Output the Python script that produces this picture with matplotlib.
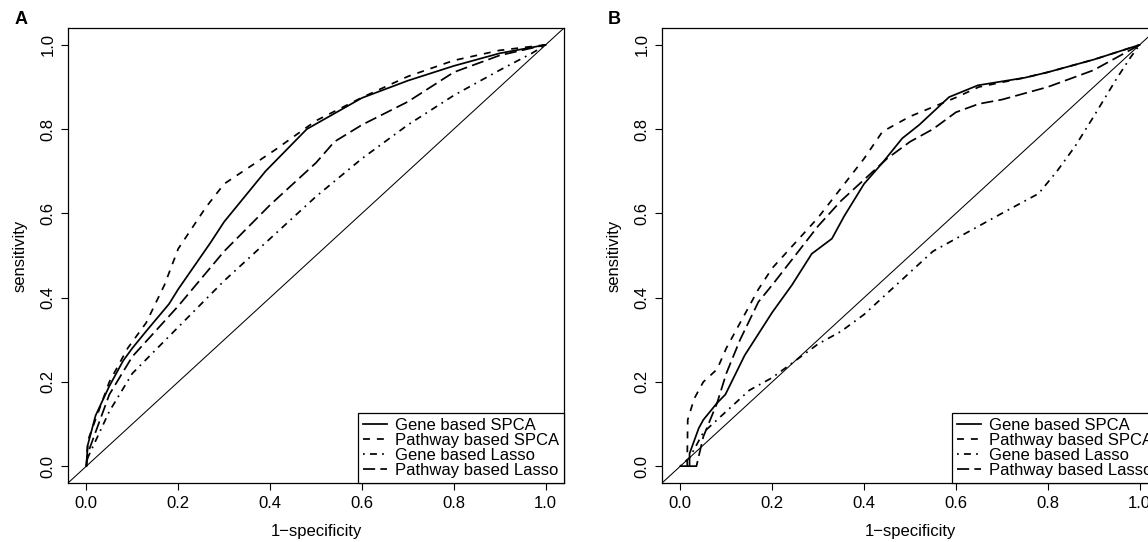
import numpy as np
import matplotlib
matplotlib.use('Agg')
import matplotlib.pyplot as plt

plt.rcParams['font.family'] = ['Liberation Sans', 'DejaVu Sans']

labels = ['Gene based SPCA', 'Pathway based SPCA', 'Gene based Lasso', 'Pathway based Lasso']

# panel A curves (1-specificity, sensitivity)
a_gene_spca_x = [0, 0.003, 0.02, 0.05, 0.08, 0.1, 0.13, 0.18, 0.2, 0.27, 0.3, 0.39, 0.48, 0.6, 0.7, 0.8, 0.9, 1.0]
a_gene_spca_y = [0, 0.05, 0.12, 0.19, 0.25, 0.28, 0.32, 0.385, 0.42, 0.53, 0.58, 0.70, 0.80, 0.874, 0.915, 0.95, 0.98, 1.0]
a_path_spca_x = [0, 0.003, 0.05, 0.09, 0.13, 0.17, 0.2, 0.26, 0.3, 0.41, 0.5, 0.6, 0.7, 0.8, 0.9, 1.0]
a_path_spca_y = [0, 0.06, 0.2, 0.28, 0.34, 0.43, 0.516, 0.614, 0.67, 0.75, 0.82, 0.875, 0.925, 0.963, 0.987, 1.0]
a_gene_lasso_x = [0, 0.003, 0.05, 0.1, 0.2, 0.3, 0.4, 0.5, 0.6, 0.7, 0.8, 0.9, 0.97, 1.0]
a_gene_lasso_y = [0, 0.02, 0.13, 0.22, 0.33, 0.44, 0.54, 0.64, 0.73, 0.81, 0.88, 0.94, 0.98, 1.0]
a_path_lasso_x = [0, 0.003, 0.05, 0.1, 0.2, 0.3, 0.4, 0.5, 0.54, 0.6, 0.7, 0.8, 0.9, 1.0]
a_path_lasso_y = [0, 0.03, 0.17, 0.26, 0.38, 0.51, 0.62, 0.72, 0.77, 0.81, 0.865, 0.935, 0.975, 1.0]

# panel B curves
b_gene_spca_x = [0, 0.02, 0.02, 0.04, 0.05, 0.08, 0.098, 0.14, 0.2, 0.243, 0.286, 0.33, 0.357, 0.4, 0.44, 0.483, 0.52, 0.585, 0.648, 0.75, 0.8, 0.9, 1.0]
b_gene_spca_y = [0, 0, 0.03, 0.09, 0.11, 0.15, 0.17, 0.263, 0.365, 0.43, 0.504, 0.54, 0.594, 0.67, 0.72, 0.778, 0.81, 0.876, 0.904, 0.922, 0.935, 0.965, 1.0]
b_path_spca_x = [0.015, 0.015, 0.016, 0.03, 0.05, 0.08, 0.1, 0.13, 0.17, 0.2, 0.25, 0.3, 0.35, 0.4, 0.44, 0.5, 0.6, 0.65, 0.75, 0.8, 0.9, 1.0]
b_path_spca_y = [0, 0.02, 0.11, 0.16, 0.2, 0.23, 0.28, 0.34, 0.42, 0.47, 0.53, 0.59, 0.66, 0.73, 0.794, 0.83, 0.875, 0.9, 0.922, 0.935, 0.965, 1.0]
b_gene_lasso_x = [0, 0.02, 0.05, 0.1, 0.15, 0.2, 0.25, 0.3, 0.35, 0.4, 0.45, 0.5, 0.55, 0.6, 0.7, 0.78, 0.82, 0.86, 0.9, 0.95, 0.98, 1.0]
b_gene_lasso_y = [0, 0.02, 0.08, 0.13, 0.18, 0.21, 0.25, 0.29, 0.32, 0.36, 0.41, 0.46, 0.51, 0.54, 0.6, 0.647, 0.7, 0.76, 0.83, 0.92, 0.97, 1.0]
b_path_lasso_x = [0.02, 0.035, 0.05, 0.08, 0.1, 0.13, 0.17, 0.2, 0.25, 0.3, 0.35, 0.4, 0.45, 0.5, 0.55, 0.6, 0.65, 0.7, 0.8, 0.9, 1.0]
b_path_lasso_y = [0, 0, 0.07, 0.15, 0.22, 0.3, 0.39, 0.43, 0.5, 0.57, 0.63, 0.68, 0.73, 0.77, 0.8, 0.84, 0.86, 0.87, 0.9, 0.94, 1.0]

styles = ['-', (0, (4, 4)), (0, (1, 3, 4, 3)), (0, (7, 3))]

W, H = 1148, 542
fig = plt.figure(figsize=(W / 100, H / 100), dpi=100)


def draw_panel(ax, curves, letter, lx):
    for (x, y), ls, lab in zip(curves, styles, labels):
        ax.plot(x, y, color='black', linestyle=ls, linewidth=1.25, label=lab)
    ax.axline((0, 0), (1, 1), color='black', linewidth=0.75)
    ax.set_xlim(-0.04, 1.04)
    ax.set_ylim(-0.04, 1.04)
    ticks = [0.0, 0.2, 0.4, 0.6, 0.8, 1.0]
    ax.set_xticks(ticks)
    ax.set_yticks(ticks)
    ax.set_xticklabels(['%.1f' % t for t in ticks], fontsize=12)
    ax.set_yticklabels(['%.1f' % t for t in ticks], fontsize=12, rotation=90, va='center')
    ax.tick_params(length=5, width=0.8, color='black', pad=4)
    for s in ax.spines.values():
        s.set_linewidth(0.9)
    ax.set_xlabel('1\u2212specificity', fontsize=12, labelpad=10)
    ax.set_ylabel('sensitivity', fontsize=12, labelpad=9)
    leg = ax.legend(loc='lower right', bbox_to_anchor=(1, 0), borderaxespad=0,
                    fancybox=False, edgecolor='black', framealpha=1, fontsize=12,
                    labelspacing=0.0, handlelength=1.4, handletextpad=0.5,
                    borderpad=0.3)
    leg.get_frame().set_linewidth(0.9)
    fig.text(lx / W, 1 - 20 / H, letter, fontsize=13, fontweight='bold', va='center')


axA = fig.add_axes([68 / W, (H - 483) / H, 496 / W, 455 / H])
draw_panel(axA, [(a_gene_spca_x, a_gene_spca_y), (a_path_spca_x, a_path_spca_y),
                 (a_gene_lasso_x, a_gene_lasso_y), (a_path_lasso_x, a_path_lasso_y)], 'A', 15)
axB = fig.add_axes([662 / W, (H - 483) / H, 496 / W, 455 / H])
draw_panel(axB, [(b_gene_spca_x, b_gene_spca_y), (b_path_spca_x, b_path_spca_y),
                 (b_gene_lasso_x, b_gene_lasso_y), (b_path_lasso_x, b_path_lasso_y)], 'B', 608)

fig.savefig('out.png', dpi=100)
